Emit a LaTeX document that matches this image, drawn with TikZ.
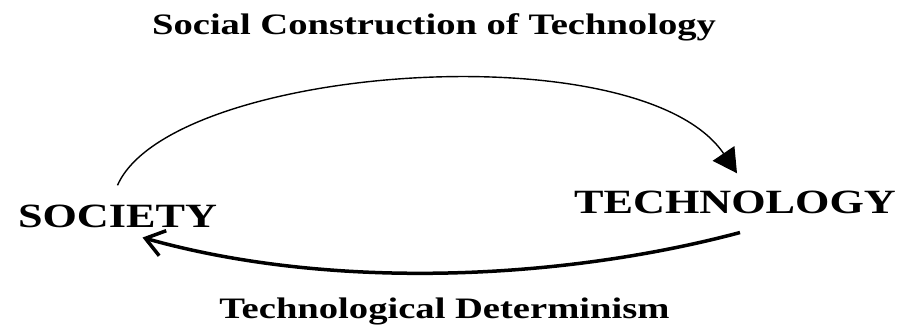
\documentclass[tikz,border=0pt]{standalone}
\usepackage{fontspec}
\setmainfont{Liberation Serif}
\usepackage{graphicx}
\usepackage{tikz}
\usetikzlibrary{arrows.meta}
\newcommand{\wide}[1]{\scalebox{1.3}[1]{#1}}

\begin{document}
\begin{tikzpicture}[x=1pt,y=-1pt,
  lab/.style={inner sep=0pt,anchor=base,font=\fontsize{34}{36}\selectfont\bfseries},
  ttl/.style={inner sep=0pt,anchor=base,font=\fontsize{29.7}{32}\selectfont\bfseries},
  up/.style={-{Triangle[length=24pt,width=26pt]},line width=1.4pt},
  down/.style={-{Straight Barb[length=18pt,width=26pt]},line width=3.5pt}]
\useasboundingbox (0,0) rectangle (904,324);
\node[ttl] (sct) at (434,34) {\wide{Social Construction of Technology}};
\node[lab] (soc) at (117.5,227) {\wide{SOCIETY}};
\node[lab] (tech) at (735,213) {\wide{TECHNOLOGY}};
\node[ttl] (td) at (444.5,318) {\wide{Technological Determinism}};
\draw[up] ([yshift=19pt]soc.north) .. controls +(53,-120) and +(-97,-143) .. ([xshift=2pt,yshift=17pt]tech.north);
\draw[down] ([xshift=5pt,yshift=-19pt]tech.south) .. controls +(-180,48) and +(188,53) .. ([xshift=25pt,yshift=-10pt]soc.south);
\end{tikzpicture}
\end{document}
